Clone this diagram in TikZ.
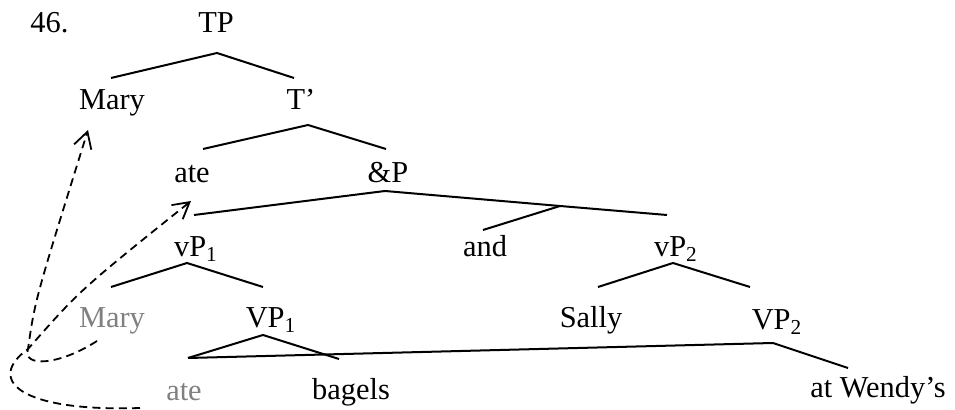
\documentclass[tikz,border=0pt]{standalone}
\usepackage{fontspec}
\setmainfont{Liberation Serif}
\usetikzlibrary{arrows.meta}
\definecolor{cInk}{HTML}{000000}
\definecolor{cTrace}{HTML}{808080}
\tikzset{
  word/.style={inner sep=0pt, anchor=base, text=cInk},
  trace/.style={word, text=cTrace},
  branch/.style={draw=cInk, line width=1pt},
  move/.style={draw=cInk, line width=0.9pt, dash pattern=on 4pt off 2.6pt,
    -{Straight Barb[length=8pt,width=9pt,line width=0.9pt]}},
}

\begin{document}
\begin{tikzpicture}[x=0.5pt, y=-0.5pt, font=\fontsize{15.2}{18}\selectfont]
    \useasboundingbox (0,0) rectangle (955,410);
    % labels
    \node[word, anchor=base west] (num) at (30,33) {46.};
    \node[word]  (TP)     at (216,33)  {TP};
    \node[word]  (MaryA)  at (112,110) {Mary};
    \node[word]  (Tbar)   at (301,110) {T’};
    \node[word]  (ateA)   at (192,183) {ate};
    \node[word]  (andP)   at (388,183) {\&P};
    \node[word]  (vPa)    at (196,257) {vP\textsubscript{1}};
    \node[word]  (conj)   at (485,257) {and};
    \node[word]  (vPb)    at (676,257) {vP\textsubscript{2}};
    \node[trace] (MaryB)  at (112,328) {Mary};
    \node[word]  (VPa)    at (271,328) {VP\textsubscript{1}};
    \node[word]  (Sally)  at (591,328) {Sally};
    \node[word]  (VPb)    at (777,330) {VP\textsubscript{2}};
    \node[trace] (ateB)   at (184,401) {ate};
    \node[word]  (bagels) at (351,400) {bagels};
    \node[word]  (wendys) at (878,398) {at Wendy’s};
    % branch points
    \coordinate (TPb)    at (217,53);
    \coordinate (MaryAt) at (111,78);
    \coordinate (Tbart)  at (294,78);
    \coordinate (Tbarb)  at (308,125);
    \coordinate (ateAt)  at (203,149);
    \coordinate (andPt)  at (386,149);
    \coordinate (andPb)  at (385,191);
    \coordinate (vPat)   at (194,215);
    \coordinate (andb)   at (560,206);
    \coordinate (conjt)  at (483,230);
    \coordinate (vPbt)   at (667,215);
    \coordinate (vPab)   at (187,263);
    \coordinate (MaryBt) at (111,287);
    \coordinate (VPat)   at (263,287);
    \coordinate (vPbb)   at (673,263);
    \coordinate (Sallyt) at (598,287);
    \coordinate (VPbt)   at (750,287);
    \coordinate (VPab)   at (263,335);
    \coordinate (ateBt)  at (188,358);
    \coordinate (bagelt) at (339,359);
    \coordinate (VPbb)   at (773,343);
    \coordinate (wendyt) at (848,368);
    % tree
    \draw[branch] (MaryAt) -- (TPb) -- (Tbart);
    \draw[branch] (ateAt) -- (Tbarb) -- (andPt);
    \draw[branch] (vPat) -- (andPb) -- (andb) -- (vPbt);
    \draw[branch] (andb) -- (conjt);
    \draw[branch] (MaryBt) -- (vPab) -- (VPat);
    \draw[branch] (Sallyt) -- (vPbb) -- (VPbt);
    \draw[branch] (ateBt) -- (VPab) -- (bagelt);
    \draw[branch] (ateBt) -- (VPbb) -- (wendyt);
    % movement
    \coordinate (MaryBs) at (97,341);
    \coordinate (MaryAe) at (88,130);
    \coordinate (ateBs)  at (140,408);
    \coordinate (ateAe)  at (191,201);
    \coordinate (bend)   at (28,349);
    \draw[move] (MaryBs) .. controls (60,365) and (22,368) .. (bend)
      .. controls (35,300) .. (MaryAe);
    \draw[move] (ateBs) .. controls (20,412) and (-15,380) .. (bend)
      .. controls (80,290) .. (ateAe);
  \end{tikzpicture}
\end{document}
